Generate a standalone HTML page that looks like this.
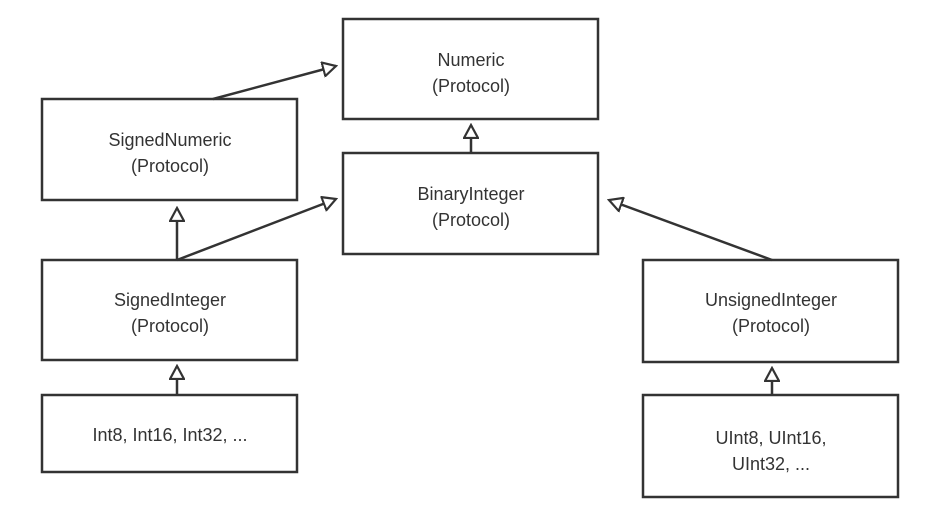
<!DOCTYPE html>
<html><head><meta charset="utf-8"><style>
html,body{margin:0;padding:0;background:#fff;}
svg{display:block;}
text{font-family:"Liberation Sans",sans-serif;font-size:18px;fill:#333;text-anchor:middle;}
</style></head><body>
<svg width="934" height="516" viewBox="0 0 934 516" xmlns="http://www.w3.org/2000/svg">
<defs>
<marker id="t" markerWidth="16" markerHeight="16" refX="14" refY="8" orient="auto" markerUnits="userSpaceOnUse">
<path d="M1,1 L14,8 L1,15 Z" fill="#fff" stroke="#333" stroke-width="2.2" stroke-linejoin="miter"/>
</marker>
</defs>
<g fill="#fff" stroke="#333" stroke-width="2.5">
<rect x="343" y="19" width="255" height="100"/>
<rect x="42" y="99" width="255" height="101"/>
<rect x="343" y="153" width="255" height="101"/>
<rect x="42" y="260" width="255" height="100"/>
<rect x="643" y="260" width="255" height="102"/>
<rect x="42" y="395" width="255" height="77"/>
<rect x="643" y="395" width="255" height="102"/>
</g>
<g stroke="#333" stroke-width="2.5" fill="none">
<line x1="213" y1="99" x2="336" y2="66" marker-end="url(#t)"/>
<line x1="471" y1="153" x2="471" y2="125" marker-end="url(#t)"/>
<line x1="177" y1="260" x2="177" y2="208" marker-end="url(#t)"/>
<line x1="177" y1="260" x2="336" y2="199" marker-end="url(#t)"/>
<line x1="772" y1="260" x2="609" y2="200" marker-end="url(#t)"/>
<line x1="177" y1="395" x2="177" y2="366" marker-end="url(#t)"/>
<line x1="772" y1="395" x2="772" y2="368" marker-end="url(#t)"/>
</g>
<text x="471" y="66">Numeric</text><text x="471" y="92">(Protocol)</text>
<text x="170" y="146">SignedNumeric</text><text x="170" y="172">(Protocol)</text>
<text x="471" y="200">BinaryInteger</text><text x="471" y="226">(Protocol)</text>
<text x="170" y="306">SignedInteger</text><text x="170" y="332">(Protocol)</text>
<text x="771" y="306">UnsignedInteger</text><text x="771" y="332">(Protocol)</text>
<text x="170" y="441">Int8, Int16, Int32, ...</text>
<text x="771" y="444">UInt8, UInt16,</text><text x="771" y="470">UInt32, ...</text>
</svg>
</body></html>
